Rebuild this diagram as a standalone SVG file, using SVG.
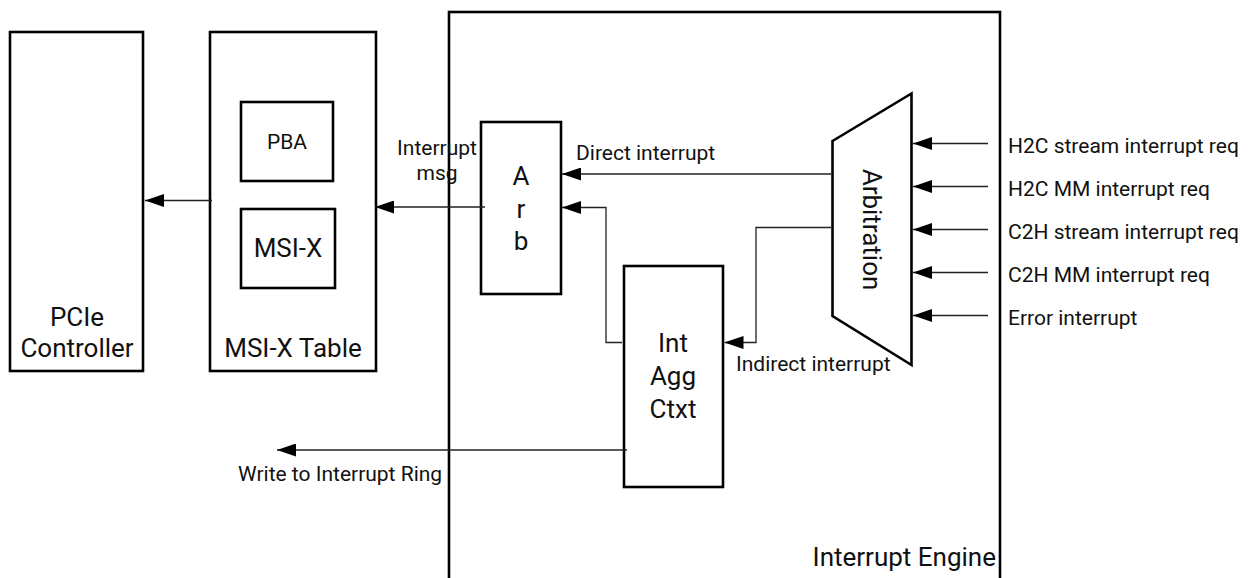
<svg xmlns="http://www.w3.org/2000/svg" width="1256" height="578" viewBox="0 0 1256 578">
  <defs>
    <marker id="arrow" viewBox="0 0 19 13" refX="19" refY="6.5" markerWidth="19" markerHeight="13" markerUnits="userSpaceOnUse" orient="auto">
      <path d="M19,6.5 L0,0 L0,13 Z" fill="#000"/>
    </marker>
    <style>
      .box { fill: #fff; stroke: #000; stroke-width: 2.6; }
      .wire { fill: none; stroke: #222; stroke-width: 1.3; }
      text { font-family: Roboto, "Liberation Sans", sans-serif; fill: #111; }
      .big { font-size: 26px; }
      .small { font-size: 21px; }
      .mid { text-anchor: middle; }
    </style>
  </defs>

  <rect width="1256" height="578" fill="#fff"/>

  <!-- outer engine block -->
  <g id="interrupt-engine">
    <rect class="box" x="449" y="12" width="551" height="600"/>
    <text class="big" x="996" y="566" text-anchor="end">Interrupt Engine</text>
  </g>

  <g id="pcie-controller">
    <rect class="box" x="10" y="32" width="133" height="339"/>
    <text class="big mid" x="77" y="326">PCIe</text>
    <text class="big mid" x="77" y="357">Controller</text>
  </g>

  <g id="msix-table">
    <rect class="box" x="210" y="32" width="166" height="339"/>
    <text class="big mid" x="293" y="357">MSI-X Table</text>
  </g>

  <g id="pba">
    <rect class="box" x="241" y="102" width="92" height="79"/>
    <text class="small mid" x="287" y="149">PBA</text>
  </g>

  <g id="msix">
    <rect class="box" x="241" y="209" width="94" height="79"/>
    <text class="big mid" x="288" y="257">MSI-X</text>
  </g>

  <g id="arb">
    <rect class="box" x="481" y="122" width="80" height="172"/>
    <text class="big mid" x="521" y="185">A</text>
    <text class="big mid" x="521" y="218">r</text>
    <text class="big mid" x="521" y="250">b</text>
  </g>

  <g id="int-agg-ctxt">
    <rect class="box" x="624" y="266" width="99" height="221"/>
    <text class="big mid" x="673" y="352">Int</text>
    <text class="big mid" x="673" y="385">Agg</text>
    <text class="big mid" x="673" y="418">Ctxt</text>
  </g>

  <g id="arbitration">
    <path class="box" d="M832.5,141 L911.5,93.5 L911.5,365 L832.5,316 Z"/>
    <text class="big mid" transform="translate(871.5,229.5) rotate(90)" y="9">Arbitration</text>
  </g>

  <!-- connectors -->
  <g id="connectors">
    <line class="wire" x1="212" y1="200.5" x2="145" y2="200.5" marker-end="url(#arrow)"/>
    <line class="wire" x1="485" y1="207" x2="375" y2="207" marker-end="url(#arrow)"/>
    <line class="wire" x1="831" y1="174" x2="562" y2="174" marker-end="url(#arrow)"/>
    <polyline class="wire" points="622,342.5 606,342.5 606,207.5 562,207.5" marker-end="url(#arrow)"/>
    <polyline class="wire" points="831,227.5 756,227.5 756,342.5 724.5,342.5" marker-end="url(#arrow)"/>
    <line class="wire" x1="627" y1="450" x2="277" y2="450" marker-end="url(#arrow)"/>
    <line class="wire" x1="988" y1="143.5" x2="913" y2="143.5" marker-end="url(#arrow)"/>
    <line class="wire" x1="988" y1="186.5" x2="913" y2="186.5" marker-end="url(#arrow)"/>
    <line class="wire" x1="988" y1="229.5" x2="913" y2="229.5" marker-end="url(#arrow)"/>
    <line class="wire" x1="988" y1="272.5" x2="913" y2="272.5" marker-end="url(#arrow)"/>
    <line class="wire" x1="988" y1="315.5" x2="913" y2="315.5" marker-end="url(#arrow)"/>
  </g>

  <!-- connector labels -->
  <g id="labels">
    <text class="small mid" x="437" y="155">Interrupt</text>
    <text class="small mid" x="437" y="180">msg</text>
    <text class="small" x="576" y="160">Direct interrupt</text>
    <text class="small" x="736" y="371">Indirect interrupt</text>
    <text class="small" x="238" y="481">Write to Interrupt Ring</text>
    <text class="small" x="1008" y="153">H2C stream interrupt req</text>
    <text class="small" x="1008" y="196">H2C MM interrupt req</text>
    <text class="small" x="1008" y="239">C2H stream interrupt req</text>
    <text class="small" x="1008" y="282">C2H MM interrupt req</text>
    <text class="small" x="1008" y="325">Error interrupt</text>
  </g>
</svg>
